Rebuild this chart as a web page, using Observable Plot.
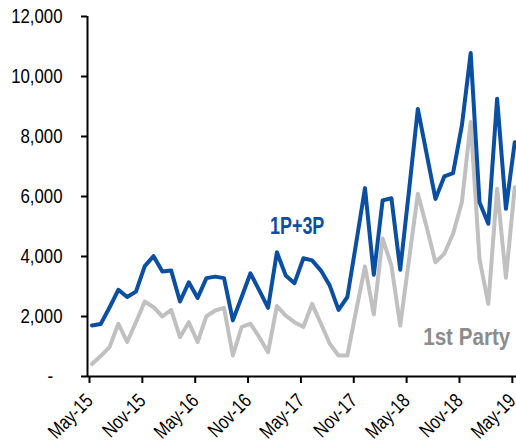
<!DOCTYPE html>
<html><head><meta charset="utf-8">
<script src="https://cdn.jsdelivr.net/npm/d3@7"></script>
<script src="https://cdn.jsdelivr.net/npm/@observablehq/plot@0.6"></script>
<style>
body{margin:0;background:#fff;}
</style>
</head><body><div id="chart"></div>
<script>
const tickLabels = ["May-15","Nov-15","May-16","Nov-16","May-17","Nov-17","May-18","Nov-18","May-19"];
const seriesNames = ["1P+3P","1st Party"];
const total = [1700,1750,2300,2890,2650,2830,3680,4010,3500,3530,2500,3140,2620,3280,3330,3280,
  1870,2650,3440,2870,2290,4140,3370,3110,3940,3870,3530,3030,2220,2650,
  4450,6280,3390,5870,5940,3560,6200,8920,7420,5920,6670,6780,8370,10780,5810,5090,9260,5590,7810];
const firstParty = [420,680,980,1760,1150,1810,2500,2310,2000,2220,1310,1810,1150,2010,2200,2290,
  700,1650,1760,1310,810,2350,2030,1810,1650,2420,1760,1090,700,700,
  2200,3670,2070,4600,3700,1700,3900,6090,4980,3810,4090,4760,5810,8480,3920,2420,6260,3290,6310];
const yTicks = [0,2000,4000,6000,8000,10000,12000];

const xTicks = tickLabels.map((_, k) => -0.5 + 6 * k);
const font = "'Liberation Sans',Arial,sans-serif";

const chart = Plot.plot({
  width: 516, height: 447,
  marginLeft: 87, marginRight: 0, marginTop: 16, marginBottom: 71,
  style: {fontFamily: font, fontSize: "20px", color: "#000", background: "#fff", overflow: "visible"},
  x: {type: "linear", domain: [-0.5, 48.2], axis: null},
  y: {domain: [0, 12000], axis: null},
  marks: [
    Plot.line(firstParty, {x: (d, i) => i, y: d => d, stroke: "#c0c0c0", strokeWidth: 4, strokeLinejoin: "round"}),
    Plot.line(total, {x: (d, i) => i, y: d => d, stroke: "#0b4fa2", strokeWidth: 4, strokeLinejoin: "round"}),
    Plot.ruleX([-0.5], {stroke: "#000", strokeWidth: 2}),
    Plot.ruleY([0], {stroke: "#000", strokeWidth: 2}),
    Plot.axisY({ticks: yTicks, tickSize: 6, tickPadding: 19, strokeWidth: 2, fontSize: 21,
      tickFormat: d => d === 0 ? "-\u00a0\u00a0" : d3.format(",")(d)}),
    Plot.axisX({ticks: xTicks, tickSize: 7, tickPadding: 14, dx: 2, strokeWidth: 2, tickRotate: -45, fontSize: 20,
      tickFormat: d => tickLabels[Math.round((d + 0.5) / 6)]}),
    Plot.text([seriesNames[0]], {x: 23.3, y: 5000, text: d => d, fill: "#0b4fa2", fontWeight: "bold", fontSize: 23, textAnchor: "middle"}),
    Plot.text([seriesNames[1]], {x: 47.5, y: 1300, text: d => d, fill: "#8c8c8c", fontWeight: "bold", fontSize: 24, textAnchor: "end"})
  ]
});
document.getElementById("chart").appendChild(chart);

// horizontally condense the text glyphs about their anchor points
chart.querySelectorAll("text").forEach(t => {
  const s = t.textContent === seriesNames[0] ? 0.78 : t.textContent === seriesNames[1] ? 0.86 : 0.8;
  const x = parseFloat(t.getAttribute("x")) || 0;
  const tr = t.getAttribute("transform") || "";
  t.setAttribute("transform", `${tr} translate(${x},0) scale(${s},1) translate(${-x},0)`);
});
</script>
</body></html>
